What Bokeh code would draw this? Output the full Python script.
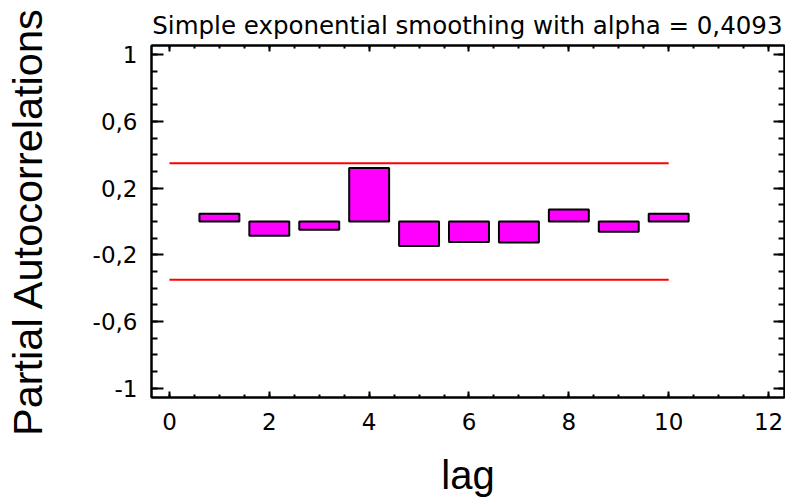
from bokeh.plotting import figure
from bokeh.models import LinearAxis, FixedTicker, Range1d
from bokeh.embed import file_html
from bokeh.resources import INLINE

# ---- data ----
lags = [1, 2, 3, 4, 5, 6, 7, 8, 9, 10]
pacf = [0.046, -0.086, -0.050, 0.322, -0.147, -0.123, -0.126, 0.072, -0.062, 0.046]
limit_lags = [0, 10]
upper_limit = [0.35, 0.35]
lower_limit = [-0.35, -0.35]

x_ticks = [0, 2, 4, 6, 8, 10, 12]
x_tick_labels = ["0", "2", "4", "6", "8", "10", "12"]
x_minor_ticks = [0, 0.5, 1, 1.5, 2, 2.5, 3, 3.5, 4, 4.5, 5, 5.5, 6, 6.5, 7, 7.5,
                 8, 8.5, 9, 9.5, 10, 10.5, 11, 11.5, 12]
y_ticks = [-1, -0.6, -0.2, 0.2, 0.6, 1]
y_tick_labels = ["-1", "-0,6", "-0,2", "0,2", "0,6", "1"]
y_minor_ticks = [-1, -0.9, -0.8, -0.7, -0.6, -0.5, -0.4, -0.3, -0.2, -0.1, 0,
                 0.1, 0.2, 0.3, 0.4, 0.5, 0.6, 0.7, 0.8, 0.9, 1]

title_text = "Simple exponential smoothing with alpha = 0,4093"
x_label = "lag"
y_label = "Partial Autocorrelations"

SMALL_FONT = "DejaVu Sans"
BIG_FONT = "Liberation Sans"

p = figure(width=785, height=500,
           x_range=Range1d(-0.36, 12.32), y_range=Range1d(-1.057, 1.057),
           x_axis_type=None, y_axis_type=None,
           output_backend="svg", toolbar_location=None,
           min_border_left=150, min_border_right=1,
           min_border_top=45, min_border_bottom=103)
p.xgrid.visible = False
p.ygrid.visible = False
p.background_fill_color = "white"
p.border_fill_color = "white"
p.outline_line_color = "black"
p.outline_line_width = 2

p.title.text = title_text
p.title.align = "right"
p.title.text_font = SMALL_FONT
p.title.text_font_size = "24.5px"
p.title.text_font_style = "normal"
p.title.text_color = "black"
p.title.standoff = 11
p.title.offset = 2


def style_axis(ax, tin, mtin, show_labels):
    ax.axis_line_width = 2
    ax.axis_line_color = "black"
    ax.major_tick_in = tin
    ax.major_tick_out = 0
    ax.minor_tick_in = mtin
    ax.minor_tick_out = 0
    ax.major_tick_line_width = 2
    ax.minor_tick_line_width = 2
    ax.major_tick_line_color = "black"
    ax.minor_tick_line_color = "black"
    if not show_labels:
        ax.major_label_text_color = None
        ax.major_label_text_font_size = "0px"
        ax.major_label_standoff = 0


xt = FixedTicker(ticks=x_ticks, minor_ticks=x_minor_ticks)
yt = FixedTicker(ticks=y_ticks, minor_ticks=y_minor_ticks)

bottom = LinearAxis(ticker=xt, axis_label=x_label)
style_axis(bottom, 6, 3, True)
bottom.major_label_overrides = dict(zip(x_ticks, x_tick_labels))
bottom.major_label_text_font = SMALL_FONT
bottom.major_label_text_font_size = "23px"
bottom.major_label_text_color = "black"
bottom.major_label_standoff = 15
bottom.axis_label_text_font = BIG_FONT
bottom.axis_label_text_font_size = "40px"
bottom.axis_label_text_font_style = "normal"
bottom.axis_label_text_color = "black"
bottom.axis_label_standoff = 20
p.add_layout(bottom, "below")

left = LinearAxis(ticker=yt, axis_label=y_label)
style_axis(left, 12, 6, True)
left.major_label_overrides = dict(zip(y_ticks, y_tick_labels))
left.major_label_text_font = SMALL_FONT
left.major_label_text_font_size = "23px"
left.major_label_text_color = "black"
left.major_label_standoff = 14
left.axis_label_text_font = BIG_FONT
left.axis_label_text_font_size = "41.5px"
left.axis_label_text_font_style = "normal"
left.axis_label_text_color = "black"
left.axis_label_standoff = 39
p.add_layout(left, "left")

top = LinearAxis(ticker=xt)
style_axis(top, 6, 3, False)
p.add_layout(top, "above")

right = LinearAxis(ticker=yt)
style_axis(right, 11, 6, False)
p.add_layout(right, "right")

p.vbar(x=lags, top=pacf, bottom=0, width=0.8,
       fill_color="#FF00FF", line_color="black", line_width=2)
p.line(x=limit_lags, y=upper_limit, line_color="#FF0000", line_width=2)
p.line(x=limit_lags, y=lower_limit, line_color="#FF0000", line_width=2)

open("out.html", "w").write(file_html(p, INLINE))
